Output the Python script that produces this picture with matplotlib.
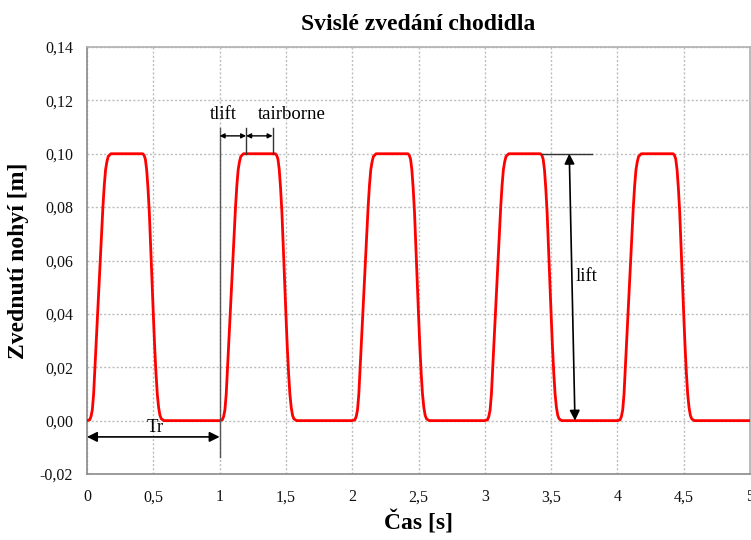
import numpy as np
import matplotlib
matplotlib.use("Agg")
import matplotlib.pyplot as plt
from matplotlib.ticker import FuncFormatter

# One step cycle of the foot lift (time within cycle [s], height [m])
cycle_time = [0.00, 0.02, 0.03, 0.04, 0.05, 0.06, 0.08, 0.10, 0.12, 0.13, 0.14,
              0.15, 0.16, 0.18, 0.42, 0.43, 0.44, 0.45, 0.46, 0.47, 0.48, 0.49,
              0.50, 0.51, 0.52, 0.53, 0.54, 0.55, 0.56, 0.58, 1.00]
cycle_lift = [0.000, 0.0003, 0.0015, 0.004, 0.010, 0.020, 0.040, 0.060, 0.080,
              0.088, 0.094, 0.097, 0.099, 0.100, 0.100, 0.0995, 0.098, 0.094,
              0.087, 0.078, 0.065, 0.052, 0.040, 0.028, 0.018, 0.010, 0.005,
              0.002, 0.0007, 0.000, 0.000]
cycle_starts = [0, 1, 2, 3, 4]

x_ticks = [0, 0.5, 1, 1.5, 2, 2.5, 3, 3.5, 4, 4.5, 5]
y_ticks = [-0.02, 0.00, 0.02, 0.04, 0.06, 0.08, 0.10, 0.12, 0.14]

t = np.concatenate([np.array(cycle_time) + s for s in cycle_starts])
z = np.concatenate([np.array(cycle_lift) for _ in cycle_starts])

plt.rcParams['font.family'] = ['Liberation Serif', 'DejaVu Serif']

fig = plt.figure(figsize=(7.51, 5.40), dpi=100)
ax = fig.add_axes([87 / 751, 1 - 474 / 540, (750 - 87) / 751, (474 - 47) / 540])

ax.plot(t, z, color='#ff0000', lw=2.0, solid_joinstyle='round', zorder=3)

ax.set_xlim(0, 5)
ax.set_ylim(-0.02, 0.14)
ax.set_xticks(x_ticks)
ax.set_yticks(y_ticks)


def comma_fmt(decimals):
    def f(v, pos):
        if decimals == 0:
            s = ('%g' % v)
        else:
            s = ('%.*f' % (decimals, v))
        return s.replace('.', ',')
    return f


ax.xaxis.set_major_formatter(FuncFormatter(comma_fmt(0)))
ax.yaxis.set_major_formatter(FuncFormatter(comma_fmt(2)))
ax.tick_params(length=0, labelsize=11.5, colors='#111111')
ax.tick_params(axis='x', pad=11)
ax.tick_params(axis='y', pad=10)

ax.grid(True, color='#bdbdbd', linestyle=(0, (1.5, 1.5)), linewidth=1.0)
ax.set_axisbelow(True)
for side in ['left', 'bottom']:
    ax.spines[side].set_color('#8a8a8a')
    ax.spines[side].set_linewidth(1.2)
for side in ['top', 'right']:
    ax.spines[side].set_color('#b0b0b0')
    ax.spines[side].set_linewidth(1.2)

ax.set_title('Svislé zvedání chodidla', fontsize=17, fontweight='bold', pad=12)
ax.set_xlabel('Čas [s]', fontsize=17, fontweight='bold', labelpad=4)
ax.set_ylabel('Zvednutí nohyí [m]', fontsize=17, fontweight='bold', labelpad=8)

# Period marker Tr
ax.plot([1, 1], [0.1097, -0.0135], color='#555555', lw=1.0, zorder=4)
ax.annotate('', xy=(0, -0.0061), xytext=(1, -0.0061),
            arrowprops=dict(arrowstyle='<|-|>', color='black', lw=1.2,
                            mutation_scale=15, shrinkA=0, shrinkB=0), zorder=5)
ax.text(0.518, -0.0024, 'Tr', fontsize=13.5, ha='center', va='center')

# tlift and tairborne intervals
ax.plot([1.2, 1.2], [0.1097, 0.100], color='#333333', lw=1.0, zorder=4)
ax.plot([1.4, 1.4], [0.1097, 0.100], color='#333333', lw=1.0, zorder=4)
ax.annotate('', xy=(1.0, 0.1067), xytext=(1.2, 0.1067),
            arrowprops=dict(arrowstyle='<|-|>', color='black', lw=1.0,
                            mutation_scale=7, shrinkA=0, shrinkB=0), zorder=5)
ax.annotate('', xy=(1.2, 0.1067), xytext=(1.4, 0.1067),
            arrowprops=dict(arrowstyle='<|-|>', color='black', lw=1.0,
                            mutation_scale=7, shrinkA=0, shrinkB=0), zorder=5)
ax.text(1.03, 0.1146, 'tlift', fontsize=13.5, ha='center', va='center')
ax.text(1.546, 0.1146, 'tairborne', fontsize=13.5, ha='center', va='center')

# Lift height
ax.plot([3.43, 3.81], [0.1, 0.1], color='#333333', lw=1.0, zorder=4)
ax.annotate('', xy=(3.637, 0.1), xytext=(3.68, 0.0),
            arrowprops=dict(arrowstyle='<|-|>', color='black', lw=1.2,
                            mutation_scale=15, shrinkA=0, shrinkB=0), zorder=5)
ax.text(3.77, 0.054, 'lift', fontsize=13.5, ha='center', va='center')

fig.savefig('out.png', dpi=100)
